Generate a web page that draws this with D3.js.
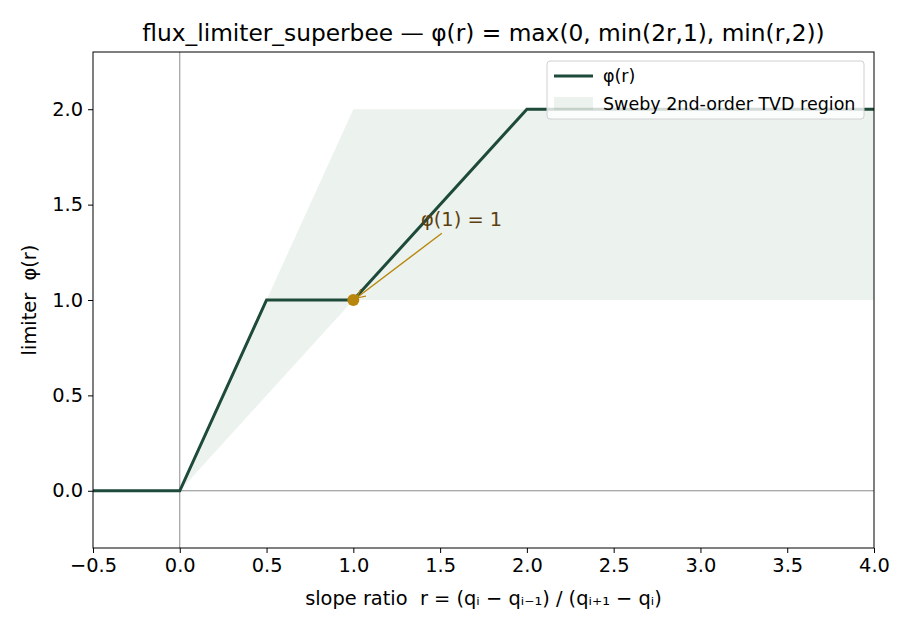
<!DOCTYPE html>
<html>
<head>
<meta charset="utf-8">
<script src="https://cdn.jsdelivr.net/npm/d3@7"></script>
<style>
  body { margin: 0; background: #fff; }
  svg { font-family: "DejaVu Sans", sans-serif; }
  text { white-space: pre; }
</style>
</head>
<body>
<svg id="drawing_region"></svg>
<script>
// superbee limiter, breakpoints
const r_values   = [-0.5, 0.0, 0.5, 1.0, 2.0, 4.0];
const phi_values = [0.0, 0.0, 1.0, 1.0, 2.0, 2.0];

// Sweby 2nd-order TVD region: between min(r,1) and min(2r,2)
const tvd_r     = [0.0, 1.0, 4.0];
const tvd_lower = [0.0, 1.0, 1.0];
const tvd_upper = [0.0, 2.0, 2.0];

const x_ticks = [-0.5, 0.0, 0.5, 1.0, 1.5, 2.0, 2.5, 3.0, 3.5, 4.0];
const y_ticks = [0.0, 0.5, 1.0, 1.5, 2.0];

const mark_r = 1.0, mark_phi = 1.0;

const config = {
    width: 910,
    height: 630,
    margin: {top: 52, right: 36, bottom: 82, left: 93}
};

const line_color = '#1e4a3a';
const gold = '#b8860b';

const svg = d3.select('#drawing_region')
    .attr('width', config.width)
    .attr('height', config.height);

const inner_width = config.width - config.margin.left - config.margin.right;
const inner_height = config.height - config.margin.top - config.margin.bottom;

const chart = svg.append('g')
    .attr('transform', `translate(${config.margin.left}, ${config.margin.top})`);

const xscale = d3.scaleLinear().domain([-0.5, 4.0]).range([0, inner_width]);
const yscale = d3.scaleLinear().domain([-0.3, 2.3]).range([inner_height, 0]);

// TVD region
const region = tvd_r.map((r, i) => ({r: r, lo: tvd_lower[i], hi: tvd_upper[i]}));
chart.append('path')
    .datum(region)
    .attr('d', d3.area().x(d => xscale(d.r)).y0(d => yscale(d.lo)).y1(d => yscale(d.hi)))
    .attr('fill', '#2a6a48')
    .attr('fill-opacity', 0.09);

// zero lines
chart.append('line')
    .attr('x1', xscale(0)).attr('x2', xscale(0))
    .attr('y1', 0).attr('y2', inner_height)
    .attr('stroke', '#808080').attr('stroke-width', 0.9);
chart.append('line')
    .attr('x1', 0).attr('x2', inner_width)
    .attr('y1', yscale(0)).attr('y2', yscale(0))
    .attr('stroke', '#808080').attr('stroke-width', 0.9);

// limiter curve
const pts = r_values.map((r, i) => ({r: r, phi: phi_values[i]}));
chart.append('path')
    .datum(pts)
    .attr('d', d3.line().x(d => xscale(d.r)).y(d => yscale(d.phi)))
    .attr('fill', 'none')
    .attr('stroke', line_color)
    .attr('stroke-width', 3)
    .attr('stroke-linejoin', 'miter');

// annotation arrow
const defs = svg.append('defs');
defs.append('marker')
    .attr('id', 'arrow')
    .attr('viewBox', '0 0 10 10')
    .attr('refX', 10).attr('refY', 5)
    .attr('markerWidth', 9).attr('markerHeight', 9)
    .attr('markerUnits', 'userSpaceOnUse')
    .attr('orient', 'auto')
    .append('path')
    .attr('d', 'M0,0 L10,5 L0,10')
    .attr('fill', 'none')
    .attr('stroke', gold)
    .attr('stroke-width', 1.4);

const px = xscale(mark_r), py = yscale(mark_phi);
chart.append('line')
    .attr('x1', xscale(1.51)).attr('y1', yscale(1.35))
    .attr('x2', px + 3).attr('y2', py - 2)
    .attr('stroke', gold)
    .attr('stroke-width', 1.4)
    .attr('marker-end', 'url(#arrow)');

chart.append('circle')
    .attr('cx', px).attr('cy', py).attr('r', 6)
    .attr('fill', gold);

chart.append('text')
    .attr('x', xscale(1.39)).attr('y', yscale(1.39))
    .attr('font-size', 19.4)
    .attr('fill', '#5c3f0e')
    .text('φ(1) = 1');

// axes
const xaxis = d3.axisBottom(xscale).tickValues(x_ticks).tickFormat(d3.format('.1f')).tickSizeOuter(0).tickSize(5).tickPadding(5);
const yaxis = d3.axisLeft(yscale).tickValues(y_ticks).tickFormat(d3.format('.1f')).tickSizeOuter(0).tickSize(5).tickPadding(5);

const xg = chart.append('g')
    .attr('transform', `translate(0, ${inner_height})`)
    .call(xaxis);
const yg = chart.append('g').call(yaxis);
[xg, yg].forEach(g => {
    g.select('.domain').remove();
    g.selectAll('text').attr('font-size', 19.4).attr('fill', '#000').attr('font-family', 'DejaVu Sans');
    g.selectAll('line').attr('stroke', '#000').attr('stroke-width', 1);
});

// frame
chart.append('rect')
    .attr('width', inner_width).attr('height', inner_height)
    .attr('fill', 'none').attr('stroke', '#000').attr('stroke-width', 1);

// labels
svg.append('text')
    .attr('x', config.margin.left + inner_width / 2).attr('y', 41)
    .attr('text-anchor', 'middle')
    .attr('font-size', 23.3)
    .text('flux_limiter_superbee — φ(r) = max(0, min(2r,1), min(r,2))');

svg.append('text')
    .attr('x', config.margin.left + inner_width / 2).attr('y', 605)
    .attr('text-anchor', 'middle')
    .attr('font-size', 19.4)
    .text('slope ratio  r = (qᵢ − qᵢ₋₁) / (qᵢ₊₁ − qᵢ)');

svg.append('text')
    .attr('transform', `translate(36, ${config.margin.top + inner_height / 2}) rotate(-90)`)
    .attr('text-anchor', 'middle')
    .attr('font-size', 19.4)
    .text('limiter  φ(r)');

// legend
const legend = svg.append('g').attr('transform', 'translate(547, 61)');
legend.append('rect')
    .attr('width', 317).attr('height', 58).attr('rx', 3)
    .attr('fill', '#fff').attr('fill-opacity', 0.8)
    .attr('stroke', '#d0d0d0');
legend.append('line')
    .attr('x1', 7).attr('x2', 46).attr('y1', 15).attr('y2', 15)
    .attr('stroke', line_color).attr('stroke-width', 3);
legend.append('rect')
    .attr('x', 7).attr('y', 36).attr('width', 39).attr('height', 13)
    .attr('fill', '#2a6a48').attr('fill-opacity', 0.09);
legend.append('text').attr('x', 56).attr('y', 21).attr('font-size', 17.5).text('φ(r)');
legend.append('text').attr('x', 56).attr('y', 49).attr('font-size', 17.5).text('Sweby 2nd-order TVD region');
</script>
</body>
</html>
